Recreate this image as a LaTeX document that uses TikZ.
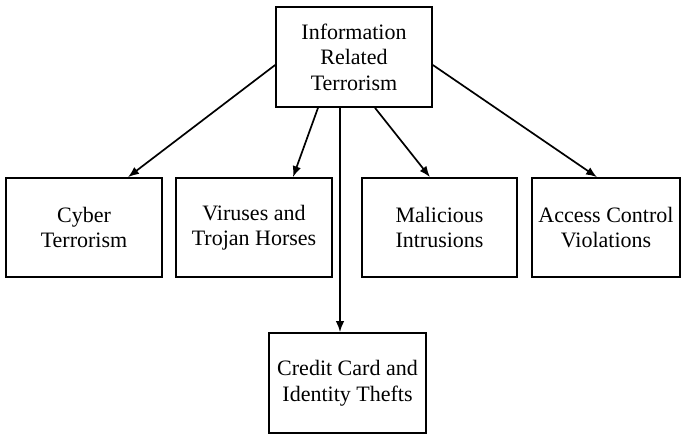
\documentclass[tikz,border=0pt]{standalone}
\usepackage{fontspec}
\setmainfont{Liberation Serif}
\usetikzlibrary{arrows.meta,calc}
\begin{document}
\begin{tikzpicture}[x=1pt,y=-1pt,
  box/.style={draw,line width=1.7pt,align=center,inner sep=0pt,
    font=\fontsize{22}{25.5}\selectfont},
  link/.style={line width=1.7pt,-{Latex[length=11pt,width=8.5pt]}}]
\useasboundingbox (0,0) rectangle (681,434);
\node[box,minimum width=156,minimum height=100] (top) at (354,57) {Information\\Related\\Terrorism};
\node[box,minimum width=156,minimum height=99] (cyber) at (84,227.5) {Cyber\\Terrorism};
\node[box,minimum width=156,minimum height=99] (virus) at (254,227.5) {Viruses and\\Trojan Horses};
\node[box,minimum width=155,minimum height=99] (mal) at (439.5,227.5) {Malicious\\Intrusions};
\node[box,minimum width=148,minimum height=99] (acc) at (606,227.5) {Access Control\\Violations};
\node[box,minimum width=157,minimum height=100] (credit) at (347.5,383) {Credit Card and\\Identity Thefts};
\draw[link] ($(top.west)+(0,8)$) -- ($(cyber.north)+(44,0)$);
\draw[link] ($(top.south)+(-36,0)$) -- ($(virus.north)+(39,0)$);
\draw[link] ($(top.south)+(-14,0)$) -- ($(credit.north)+(-7.5,0)$);
\draw[link] ($(top.south)+(21,0)$) -- ($(mal.north)+(-9.5,0)$);
\draw[link] ($(top.east)+(0,8)$) -- ($(acc.north)+(-9,0)$);
\end{tikzpicture}
\end{document}
